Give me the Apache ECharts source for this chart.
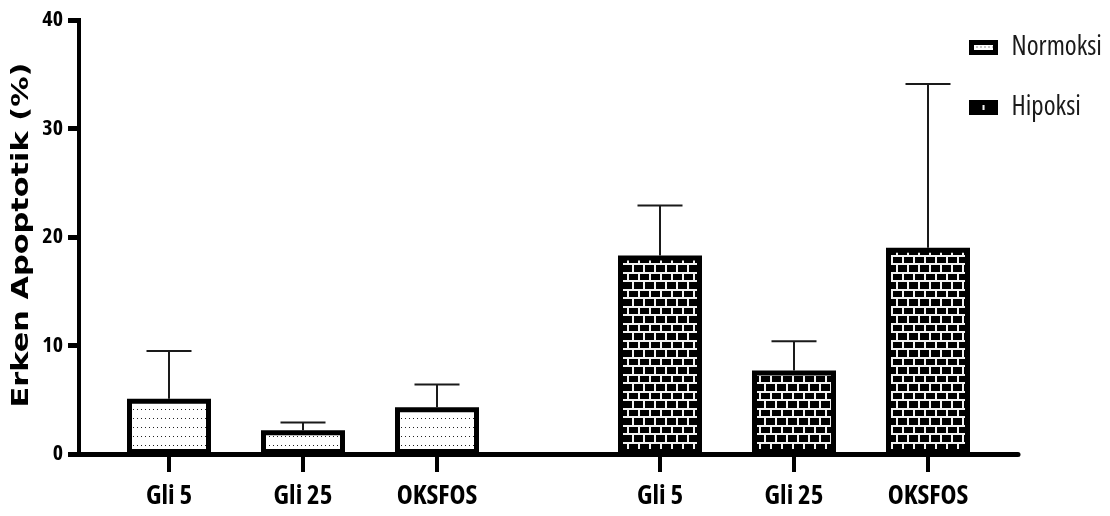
<!DOCTYPE html>
<html>
<head>
<meta charset="utf-8">
<script src="https://cdn.jsdelivr.net/npm/echarts@6/dist/echarts.min.js"></script>
<style>
  html, body { margin: 0; padding: 0; background: #fff; }
  #chart { width: 1110px; height: 516px; }
</style>
</head>
<body>
<div id="chart"></div>
<script>
// Early apoptosis (%) per treatment, normoxia vs hypoxia; mean with upper SD
const groups = ['Gli 5', 'Gli 25', 'OKSFOS'];
const normoksiMean = [5.1, 2.2, 4.3];
const normoksiUpper = [9.5, 2.9, 6.4];
const hipoksiMean = [18.3, 7.7, 19.0];
const hipoksiUpper = [22.9, 10.4, 34.1];
const yTicks = [0, 10, 20, 30, 40];

// Open Sans is a variable font with a width axis; the 'condensed' keyword
// lands in the canvas font shorthand and selects the narrow cut.
const NARROW = "'Open Sans', 'DejaVu Sans', sans-serif";
const STRETCH = 'condensed';

// Fill tiles: fine dots for normoxia, white-mortar bricks for hypoxia
function dotTile() {
  const c = document.createElement('canvas');
  c.width = 4; c.height = 9;
  const g = c.getContext('2d');
  g.fillStyle = '#fff'; g.fillRect(0, 0, 4, 9);
  g.fillStyle = '#222'; g.fillRect(1, 4, 1, 1);
  return c;
}
function brickTile() {
  const c = document.createElement('canvas');
  c.width = 22; c.height = 17;
  const g = c.getContext('2d');
  g.fillStyle = '#000'; g.fillRect(0, 0, 22, 17);
  g.fillStyle = '#f2f2f2';
  g.fillRect(0, 0, 22, 2);
  g.fillRect(0, 8, 22, 2);
  g.fillRect(0, 2, 2, 6);
  g.fillRect(11, 2, 2, 6);
  g.fillRect(5, 10, 2, 7);
  g.fillRect(16, 10, 2, 7);
  return c;
}

const yMin = yTicks[0];
const yMax = yTicks[yTicks.length - 1];
const yStep = yTicks[1] - yTicks[0];

function errorSeries(name, xi, means, uppers) {
  return {
    name: name + ' SD',
    type: 'custom',
    xAxisIndex: xi,
    yAxisIndex: xi,
    z: 1,
    silent: true,
    data: groups.map((g, i) => [i, means[i], uppers[i]]),
    encode: { x: 0, y: [1, 2] },
    renderItem: function (params, api) {
      const base = api.coord([api.value(0), api.value(1)]);
      const top = api.coord([api.value(0), api.value(2)]);
      const half = 22.5;
      const st = { stroke: '#1a1a1a', lineWidth: 2 };
      return {
        type: 'group',
        children: [
          { type: 'line', shape: { x1: base[0], y1: base[1], x2: top[0], y2: top[1] }, style: st },
          { type: 'line', shape: { x1: top[0] - half, y1: top[1], x2: top[0] + half, y2: top[1] }, style: st }
        ]
      };
    }
  };
}

function catAxis(gi) {
  return {
    gridIndex: gi,
    type: 'category',
    data: groups,
    axisLine: { show: false },
    axisTick: { show: true, alignWithLabel: true, length: 18, lineStyle: { color: '#000', width: 4 } },
    axisLabel: {
      interval: 0, margin: 29, color: '#000',
      fontFamily: NARROW, fontStyle: STRETCH, fontWeight: 'bold', fontSize: 27
    },
    splitLine: { show: false }
  };
}
function hiddenY(gi) {
  return { gridIndex: gi, type: 'value', min: yMin, max: yMax, interval: yStep, show: false };
}

const chart = echarts.init(document.getElementById('chart'), null, { renderer: 'canvas' });

chart.setOption({
  animation: false,
  backgroundColor: '#fff',
  grid: [
    { left: 79, right: 92, top: 20, bottom: 62 },
    { left: 102, width: 402, top: 20, bottom: 62 },
    { left: 593, width: 402, top: 20, bottom: 62 }
  ],
  xAxis: [
    {
      gridIndex: 0, type: 'value', min: 0, max: 1, position: 'bottom',
      axisLine: { show: true, onZero: false, lineStyle: { color: '#000', width: 5 } },
      axisTick: { show: false }, axisLabel: { show: false }, splitLine: { show: false }
    },
    catAxis(1),
    catAxis(2)
  ],
  yAxis: [
    {
      gridIndex: 0, type: 'value', min: yMin, max: yMax, interval: yStep,
      axisLine: { show: true, lineStyle: { color: '#000', width: 4, cap: 'square' } },
      axisTick: { show: true, length: 11, lineStyle: { color: '#000', width: 5 } },
      axisLabel: {
        margin: 16, color: '#000',
        fontFamily: NARROW, fontStyle: STRETCH, fontWeight: 'bold', fontSize: 22
      },
      splitLine: { show: false }
    },
    hiddenY(1),
    hiddenY(2)
  ],
  legend: {
    data: ['Normoksi', 'Hipoksi'],
    orient: 'vertical',
    left: 964,
    top: 29,
    itemWidth: 24,
    itemHeight: 10,
    itemGap: 33,
    icon: 'rect',
    selectedMode: false,
    itemStyle: { borderWidth: 5, borderColor: '#000' },
    textStyle: {
      fontFamily: NARROW, fontStyle: STRETCH, fontSize: 27, color: '#1a1a1a',
      padding: [0, 0, 0, 11]
    }
  },
  graphic: [
    {
      type: 'text',
      x: 22,
      y: 235,
      rotation: Math.PI / 2,
      scaleX: 1.32,
      style: {
        text: 'Erken Apoptotik (%)',
        font: "bold 23px 'DejaVu Sans', sans-serif",
        fill: '#000',
        align: 'center',
        verticalAlign: 'middle'
      }
    }
  ],
  series: [
    {
      name: 'Normoksi', type: 'bar', xAxisIndex: 1, yAxisIndex: 1, z: 2,
      data: normoksiMean, barWidth: 84,
      itemStyle: { color: { image: dotTile(), repeat: 'repeat' }, borderColor: '#000', borderWidth: 5 }
    },
    errorSeries('Normoksi', 1, normoksiMean, normoksiUpper),
    {
      name: 'Hipoksi', type: 'bar', xAxisIndex: 2, yAxisIndex: 2, z: 2,
      data: hipoksiMean, barWidth: 84,
      itemStyle: { color: { image: brickTile(), repeat: 'repeat' }, borderColor: '#000', borderWidth: 5 }
    },
    errorSeries('Hipoksi', 2, hipoksiMean, hipoksiUpper)
  ]
});
</script>
</body>
</html>
